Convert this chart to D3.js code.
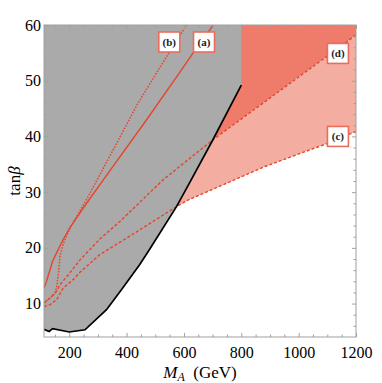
<!DOCTYPE html>
<html>
<head>
  <meta charset="utf-8">
  <title>tan beta vs MA</title>
  <script src="https://d3js.org/d3.v7.min.js"></script>
  <style>
    body { margin: 0; background: #fff; }
    text { font-family: "Liberation Serif", "DejaVu Serif", serif; }
  </style>
</head>
<body>
<div id="chart"></div>
<script>
  // boundary of the excluded (gray) region, [MA, tanb]
  var blackEdge = [[112,5.4],[130,5.0],[142,5.5],[200,4.9],[255,5.3],[330,8.9],[382,12.5],[446,17.0],
                   [481,19.8],[574,27.4],[620,31.7],[701,39.4],[800,49.2]];
  // curves (a) solid, (b) dotted, (c) and (d) dashed
  var curveA = [[112,12.8],[121,14.0],[142,17.6],[156,19.1],[179,21.5],[202,23.6],[255,27.6],[330,33.0],
                [463,42.5],[592,52.0],[632,55.0],[702,60]];
  var curveB = [[112,10.1],[133,11.0],[150,11.8],[156,13.0],[162,15.2],[168,18.6],[179,20.7],[202,23.5],
                [230,26.0],[266,29.2],[347,37.0],[440,46.0],[520,52.7],[609,60]];
  var curveC = [[112,9.45],[133,9.8],[156,10.7],[179,12.8],[214,14.3],[237,15.6],[307,18.8],[411,22.1],
                [574,27.4],[615,28.6],[882,34.6],[1103,38.8],[1200,40.9]];
  var curveD = [[112,10.1],[133,11.0],[156,12.2],[168,13.4],[202,15.5],[237,17.8],[307,21.6],[376,24.7],
                [527,32.2],[592,34.9],[701,39.4],[1200,58.2]];
  var grayRightEdge = 800;

  // curve labels and where they sit (data coords)
  var labelText = ["(a)", "(b)", "(c)", "(d)"];
  var labelX = [670, 549, 1137, 1137];
  var labelY = [56.95, 56.95, 40.0, 54.9];

  var xTicks = [200, 400, 600, 800, 1000, 1200];
  var yTicks = [10, 20, 30, 40, 50, 60];

  var W = 382, H = 383;
  var m = {left: 44, right: 356, top: 25, bottom: 337};

  var svg = d3.select("#chart").append("svg")
    .attr("width", W).attr("height", H);

  var x = d3.scaleLinear().domain([112, 1200]).range([m.left, m.right]);
  var y = d3.scaleLinear().domain([4, 60]).range([m.bottom, m.top]);

  var line = d3.line().x(function(d){ return x(d[0]); }).y(function(d){ return y(d[1]); });

  svg.append("clipPath").attr("id", "clip")
    .append("rect").attr("x", m.left).attr("y", m.top)
    .attr("width", m.right - m.left).attr("height", m.bottom - m.top);

  var plot = svg.append("g").attr("clip-path", "url(#clip)");

  var xMin = x.domain()[0], xMax = x.domain()[1], yMax = y.domain()[1];

  // dark region above (d)
  plot.append("path")
    .attr("d", line(curveD.concat([[xMax, yMax], [xMin, yMax]])) + "Z")
    .attr("fill", "#ef7b6a");

  // light region between (c) and (d)
  plot.append("path")
    .attr("d", line(curveC.concat(curveD.slice().reverse())) + "Z")
    .attr("fill", "#f4ada1");

  // gray excluded region
  plot.append("path")
    .attr("d", line(blackEdge.concat([[grayRightEdge, yMax], [xMin, yMax]])) + "Z")
    .attr("fill", "#aaaaaa");

  var red = "#e5452d";
  plot.append("path").attr("d", line(curveD)).attr("fill", "none")
    .attr("stroke", red).attr("stroke-width", 1.4).attr("stroke-dasharray", "3,2");
  plot.append("path").attr("d", line(curveC)).attr("fill", "none")
    .attr("stroke", red).attr("stroke-width", 1.4).attr("stroke-dasharray", "3,2");
  plot.append("path").attr("d", line(curveB)).attr("fill", "none")
    .attr("stroke", red).attr("stroke-width", 1.5).attr("stroke-dasharray", "1.5,1.5");
  plot.append("path").attr("d", line(curveA)).attr("fill", "none")
    .attr("stroke", red).attr("stroke-width", 1.4);

  plot.append("path").attr("d", line(blackEdge)).attr("fill", "none")
    .attr("stroke", "#000").attr("stroke-width", 1.7);

  // label boxes
  labelText.forEach(function(t, i) {
    var cx = x(labelX[i]), cy = y(labelY[i]);
    svg.append("rect")
      .attr("x", cx - 10.5).attr("y", cy - 10)
      .attr("width", 21).attr("height", 20)
      .attr("fill", "#fff").attr("stroke", "#eb6d5b").attr("stroke-width", 1.6);
    svg.append("text")
      .attr("x", cx).attr("y", cy + 3.8)
      .attr("text-anchor", "middle")
      .style("font-size", "11px").style("font-weight", "bold")
      .attr("fill", "#222")
      .text(t);
  });

  // frame and ticks
  var frameColor = "#a0a0a0";
  var xMinor = d3.range(150, 1201, 50).filter(function(v){ return xTicks.indexOf(v) < 0; });
  var yMinor = d3.range(6, 61, 2).filter(function(v){ return yTicks.indexOf(v) < 0; });

  function styleAxis(g) {
    g.attr("font-family", null).attr("font-size", null);
    g.select(".domain").remove();
    g.selectAll(".tick line").attr("stroke", frameColor);
    g.selectAll(".tick text").attr("fill", "#000").style("font-size", "16px")
      .style("font-family", "'Liberation Serif', serif");
  }

  svg.append("g").attr("transform", "translate(0," + m.bottom + ")")
    .call(d3.axisBottom(x).tickValues(xTicks).tickSize(-4).tickPadding(10).tickFormat(d3.format("d")))
    .call(styleAxis);
  svg.append("g").attr("transform", "translate(0," + m.bottom + ")")
    .call(d3.axisBottom(x).tickValues(xMinor).tickSize(-2.5).tickFormat(""))
    .call(styleAxis);
  svg.append("g").attr("transform", "translate(0," + m.top + ")")
    .call(d3.axisTop(x).tickValues(xTicks).tickSize(-4).tickFormat(""))
    .call(styleAxis);
  svg.append("g").attr("transform", "translate(0," + m.top + ")")
    .call(d3.axisTop(x).tickValues(xMinor).tickSize(-2.5).tickFormat(""))
    .call(styleAxis);

  svg.append("g").attr("transform", "translate(" + m.left + ",0)")
    .call(d3.axisLeft(y).tickValues(yTicks).tickSize(-4).tickPadding(3))
    .call(styleAxis);
  svg.append("g").attr("transform", "translate(" + m.left + ",0)")
    .call(d3.axisLeft(y).tickValues(yMinor).tickSize(-2.5).tickFormat(""))
    .call(styleAxis);
  svg.append("g").attr("transform", "translate(" + m.right + ",0)")
    .call(d3.axisRight(y).tickValues(yTicks).tickSize(-4).tickFormat(""))
    .call(styleAxis);
  svg.append("g").attr("transform", "translate(" + m.right + ",0)")
    .call(d3.axisRight(y).tickValues(yMinor).tickSize(-2.5).tickFormat(""))
    .call(styleAxis);

  svg.append("rect")
    .attr("x", m.left).attr("y", m.top)
    .attr("width", m.right - m.left).attr("height", m.bottom - m.top)
    .attr("fill", "none").attr("stroke", frameColor).attr("stroke-width", 1);

  // axis titles
  var xt = svg.append("text")
    .attr("x", (m.left + m.right) / 2).attr("y", 378)
    .attr("text-anchor", "middle")
    .style("font-size", "17px");
  xt.append("tspan").style("font-style", "italic").text("M");
  xt.append("tspan").style("font-style", "italic").style("font-size", "12px")
    .attr("dy", 3).text("A");
  xt.append("tspan").attr("dy", -3).text("\u2002(GeV)");

  var yt = svg.append("text")
    .attr("transform", "translate(20," + ((m.top + m.bottom) / 2) + ") rotate(-90)")
    .attr("text-anchor", "middle")
    .style("font-size", "17px");
  yt.append("tspan").text("tan");
  yt.append("tspan").style("font-style", "italic").text("\u03b2");
</script>
</body>
</html>
